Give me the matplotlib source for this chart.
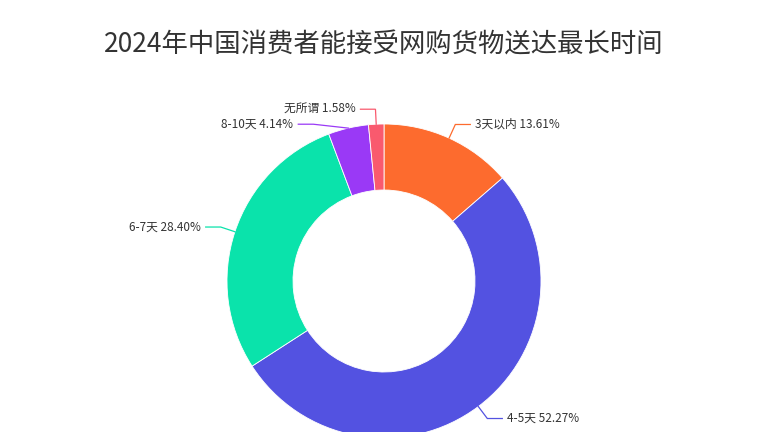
import numpy as np
import matplotlib
matplotlib.use("Agg")
from matplotlib import pyplot as plt

plt.rcParams['font.family'] = ['Noto Sans CJK SC', 'DejaVu Sans']

# data
labels = ["3天以内", "4-5天", "6-7天", "8-10天", "无所谓"]
shares = [13.61, 52.27, 28.40, 4.14, 1.58]
colors = ["#FD6B2E", "#5352E1", "#0AE3AB", "#9A39F6", "#F95A6E"]
title = "2024年中国消费者能接受网购货物送达最长时间"

W, H = 768, 432
CX, CY = 384, H - 281     # centre of the ring (pixel units, y up)
R_OUT, R_IN = 157, 91
LEAD1, LEAD2 = 15, 15     # radial part / horizontal part of the label lines
GAP = 15                  # min vertical spacing of labels

fig = plt.figure(figsize=(W / 100, H / 100), dpi=100)
ax = fig.add_axes([0, 0, 1, 1])

wedges, _ = ax.pie(shares, colors=colors, radius=R_OUT, center=(CX, CY),
                   startangle=90, counterclock=False,
                   wedgeprops=dict(width=R_OUT - R_IN, edgecolor='white', linewidth=0.6))

# label positions, echarts style
items = []
for w, lab, val, col in zip(wedges, labels, shares, colors):
    mid = np.deg2rad((w.theta1 + w.theta2) / 2)
    ex, ey = CX + R_OUT * np.cos(mid), CY + R_OUT * np.sin(mid)
    ly = CY + (R_OUT + LEAD1) * np.sin(mid)
    side = 1 if np.cos(mid) >= 0 else -1
    items.append(dict(ex=ex, ey=ey, ly=ly, side=side, text=f"{lab} {val:.2f}%", col=col))

# push overlapping labels down on each side
for side in (1, -1):
    grp = sorted([it for it in items if it['side'] == side], key=lambda d: -d['ly'])
    for a, b in zip(grp, grp[1:]):
        if a['ly'] - b['ly'] < GAP:
            b['ly'] = a['ly'] - GAP

R2 = R_OUT + LEAD1
for it in items:
    dy = it['ly'] - CY
    bx = CX + it['side'] * np.sqrt(max(R2 ** 2 - dy ** 2, 0))
    hx = bx + it['side'] * LEAD2
    ax.plot([it['ex'], bx, hx], [it['ey'], it['ly'], it['ly']], color=it['col'], lw=0.9,
            solid_joinstyle='miter')
    ax.text(hx + it['side'] * 5, it['ly'], it['text'], fontsize=8.5, color='#333333',
            ha='left' if it['side'] > 0 else 'right', va='center')

ax.text(W / 2, H - 45, title, fontsize=19, color='#333333', ha='center', va='center')

ax.set_xlim(0, W)
ax.set_ylim(0, H)
ax.set_aspect('auto')
ax.set_axis_off()

fig.savefig("out.png", dpi=100, facecolor='white')
